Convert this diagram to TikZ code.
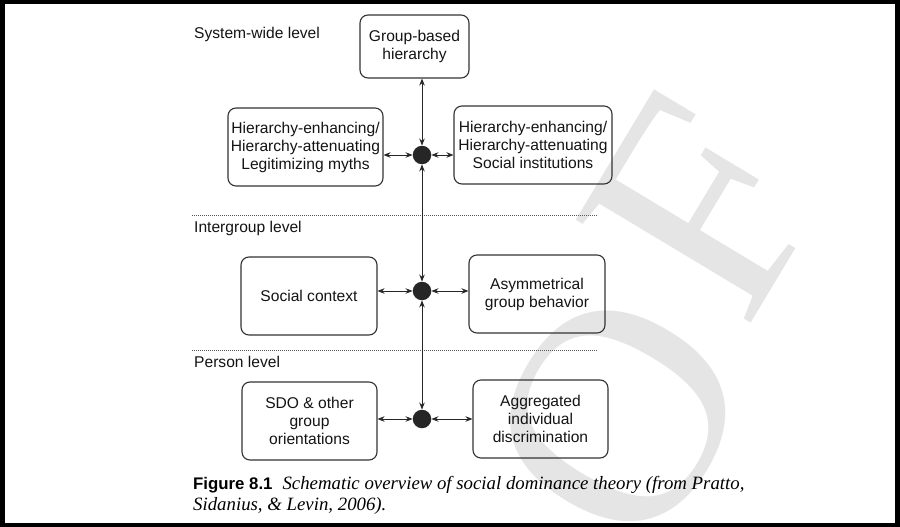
\documentclass[tikz,border=0pt]{standalone}
\usepackage{fontspec}
\setmainfont{Liberation Sans}
\newfontfamily\capserif{Liberation Serif}
\usetikzlibrary{arrows.meta}

\newcommand\boxfont{\fontsize{15.6}{18}\selectfont}
\newcommand\capfont{\capserif\itshape\fontsize{18.8}{21}\selectfont}

\begin{document}
\begin{tikzpicture}[x=1pt,y=-1pt,
  box/.style={draw=black!80, line width=1.1pt, rounded corners=8pt,
    align=center, inner sep=0pt, font=\boxfont, text=black!92},
  hub/.style={circle, fill=black!85, inner sep=0pt, minimum size=18.5pt},
  link/.style={line width=0.9pt, draw=black!85,
    {Stealth[length=7pt,width=5.5pt]}-{Stealth[length=7pt,width=5.5pt]}},
  levelrule/.style={draw=black!65, line width=0.9pt, dash pattern=on 0.9pt off 1.1pt},
  levellabel/.style={anchor=base west, inner sep=0pt, font=\boxfont, text=black!92},
  stamp/.style={anchor=base west, inner sep=0pt, rotate=59, text=black!10,
    font=\capserif\fontsize{310}{310}\selectfont},
]
\useasboundingbox (0,0) rectangle (900,527);
\fill[white] (0,0) rectangle (900,527);

% faint stamp letters behind the figure
\node[stamp] (stampo) at (647,565) {O};
\node[stamp] (stampf) at (745,333) {F};

% level separators and labels
\draw[levelrule] (192,215) -- (597,215);
\draw[levelrule] (192,350) -- (597,350);
\node[levellabel] (lvsys) at (194,39) {System-wide level};
\node[levellabel] (lvgrp) at (194,232) {Intergroup level};
\node[levellabel] (lvper) at (194,367) {Person level};

% system-wide level
\node[box, minimum width=109pt, minimum height=63pt] (gbh) at (414.5,46.5)
  {Group-based\\hierarchy};
\node[box, minimum width=155pt, minimum height=78pt] (myths) at (305.5,147)
  {Hierarchy-enhancing/\\Hierarchy-attenuating\\Legitimizing myths};
\node[box, minimum width=158pt, minimum height=78pt] (inst) at (533,145)
  {Hierarchy-enhancing/\\Hierarchy-attenuating\\Social institutions};
\node[hub] (hubsys) at (422,155) {};

% intergroup level
\node[box, minimum width=136pt, minimum height=78pt] (ctx) at (309,296)
  {Social context};
\node[box, minimum width=136pt, minimum height=78pt] (asym) at (537,294)
  {Asymmetrical\\group behavior};
\node[hub] (hubgrp) at (422,291) {};

% person level
\node[box, minimum width=135pt, minimum height=78pt] (sdo) at (309.5,421)
  {SDO \& other\\group\\orientations};
\node[box, minimum width=135pt, minimum height=78pt] (disc) at (540.5,419)
  {Aggregated\\individual\\discrimination};
\node[hub] (hubper) at (422,419) {};

% connectors
\draw[link] (gbh.south -| hubsys) -- (hubsys.north);
\draw[link] (hubsys.south) -- (hubgrp.north);
\draw[link] (hubgrp.south) -- (hubper.north);
\draw[link] (myths.east |- hubsys) -- (hubsys.west);
\draw[link] (hubsys.east) -- (inst.west |- hubsys);
\draw[link] (ctx.east |- hubgrp) -- (hubgrp.west);
\draw[link] (hubgrp.east) -- (asym.west |- hubgrp);
\draw[link] (sdo.east |- hubper) -- (hubper.west);
\draw[link] (hubper.east) -- (disc.west |- hubper);

% caption
\node[anchor=base west, inner sep=0pt, text=black] (cap1) at (193,489)
  {{\fontsize{16.8}{18}\selectfont\bfseries Figure 8.1}\hspace{10pt}{\capfont Schematic overview of social dominance theory (from Pratto,}};
\node[anchor=base west, inner sep=0pt, text=black] (cap2) at (193,510)
  {\capfont Sidanius, \& Levin, 2006).};

% outer frame
\draw[line width=4.5pt] (2.25,2.25) rectangle (897.5,524.75);
\end{tikzpicture}
\end{document}
